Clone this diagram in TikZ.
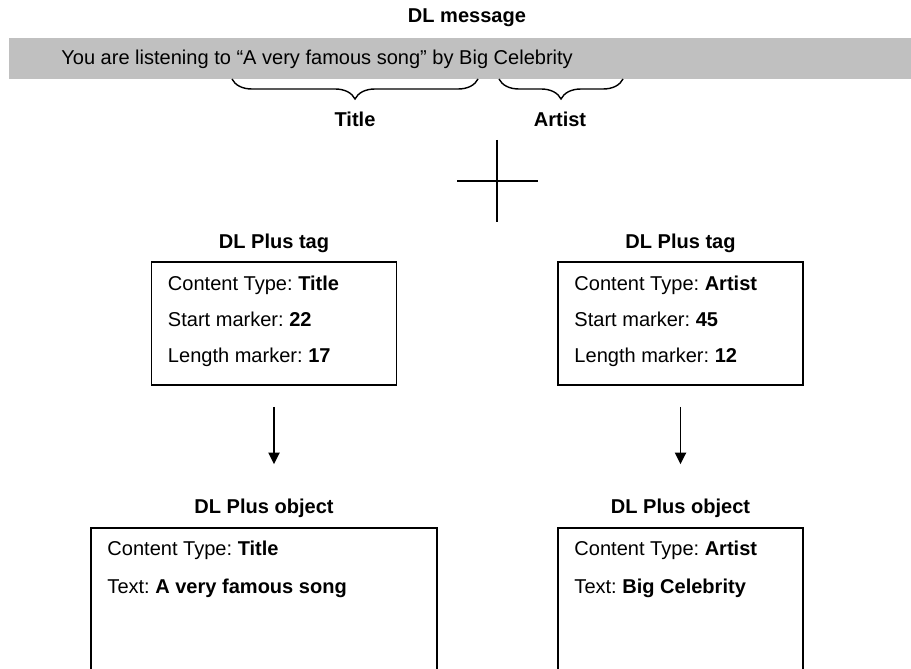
\documentclass[tikz,border=0pt]{standalone}
\usepackage{fontspec}
\setmainfont{Liberation Sans}
\frenchspacing
\usetikzlibrary{positioning,calc,arrows.meta,decorations.pathreplacing}
\definecolor{bargray}{RGB}{192,192,192}
\tikzset{
  every node/.style={font=\fontsize{11.4}{13.7}\selectfont, inner sep=0pt},
  msgbar/.style={fill=bargray, draw=none, minimum width=18.4cm, minimum height=0.82cm, anchor=west},
  infobox/.style={draw, line width=1pt},
  heading/.style={font=\fontsize{11.4}{13.7}\selectfont\bfseries, anchor=base},
  infoline/.style={anchor=base west},
  bracemark/.style={decorate, decoration={brace, mirror, amplitude=0.4cm}, line width=0.8pt},
  crossline/.style={line width=1pt},
  flowarrow/.style={-{Triangle[width=6.4pt,length=6.6pt]}, line width=1pt}
}
\def\Wtag{4.9}
\def\Hobj{3.6}
\newcommand{\TagPanel}[5]{%
  % #1 name, #2 centre x, #3 content type, #4 start marker, #5 length marker
  \node[infobox, minimum width=\Wtag cm, minimum height=2.46cm] (#1) at (#2,6.89) {};
  \node[heading] (#1head) at (#2,8.38) {DL Plus tag};
  \node[infoline] (#1type) at ($(#1.north west)+(0.34,-0.58)$) {Content Type: \textbf{#3}};
  \node[infoline] (#1start) at ($(#1.north west)+(0.34,-1.30)$) {Start marker: \textbf{#4}};
  \node[infoline] (#1length) at ($(#1.north west)+(0.34,-2.02)$) {Length marker: \textbf{#5}};
}
\newcommand{\ObjectPanel}[5]{%
  % #1 name, #2 centre x, #3 width, #4 content type, #5 text
  \node[infobox, minimum width=#3cm, minimum height=\Hobj cm] (#1) at (#2,1.0) {};
  \node[heading] (#1head) at (#2,3.09) {DL Plus object};
  \node[infoline] (#1type) at ($(#1.north west)+(0.34,-0.56)$) {Content Type: \textbf{#4}};
  \node[infoline] (#1text) at ($(#1.north west)+(0.34,-1.33)$) {Text: \textbf{#5}};
}

\begin{document}
\begin{tikzpicture}
  \useasboundingbox (0,0) rectangle (18.22,13.36);
  \clip (0,0) rectangle (18.22,13.36);

  % DL message
  \node[heading] (msghead) at (9.34,12.9) {DL message};
  \node[msgbar] (bar) at (0.18,12.19) {};
  \node[infoline] (msgtext) at (1.22,12.06) {You are listening to “A very famous song” by Big Celebrity};

  % braces under the message
  \coordinate (titleA) at (4.64,11.78);
  \coordinate (titleB) at (9.56,11.78);
  \coordinate (artistA) at (9.98,11.78);
  \coordinate (artistB) at (12.46,11.78);
  \draw[bracemark] (titleA) -- (titleB);
  \draw[bracemark] (artistA) -- (artistB);
  \node[heading] (titlelbl) at (7.1,10.82) {Title};
  \node[heading] (artistlbl) at (11.2,10.82) {Artist};

  % plus sign
  \coordinate (plus) at (9.94,9.74);
  \draw[crossline] ($(plus)+(0,0.82)$) -- ($(plus)+(0,-0.82)$);
  \draw[crossline] ($(plus)+(-0.8,0)$) -- ($(plus)+(0.82,0)$);

  % tags
  \TagPanel{tagL}{5.48}{Title}{22}{17}
  \TagPanel{tagR}{13.61}{Artist}{45}{12}

  % objects
  \ObjectPanel{objL}{5.28}{6.92}{Title}{A very famous song}
  \ObjectPanel{objR}{13.61}{\Wtag}{Artist}{Big Celebrity}

  % arrows
  \draw[flowarrow, shorten <=0.42cm, shorten >=1.26cm] (tagL.south) -- (tagL.south |- objL.north);
  \draw[flowarrow, shorten <=0.42cm, shorten >=1.26cm] (tagR.south) -- (tagR.south |- objR.north);
\end{tikzpicture}
\end{document}
